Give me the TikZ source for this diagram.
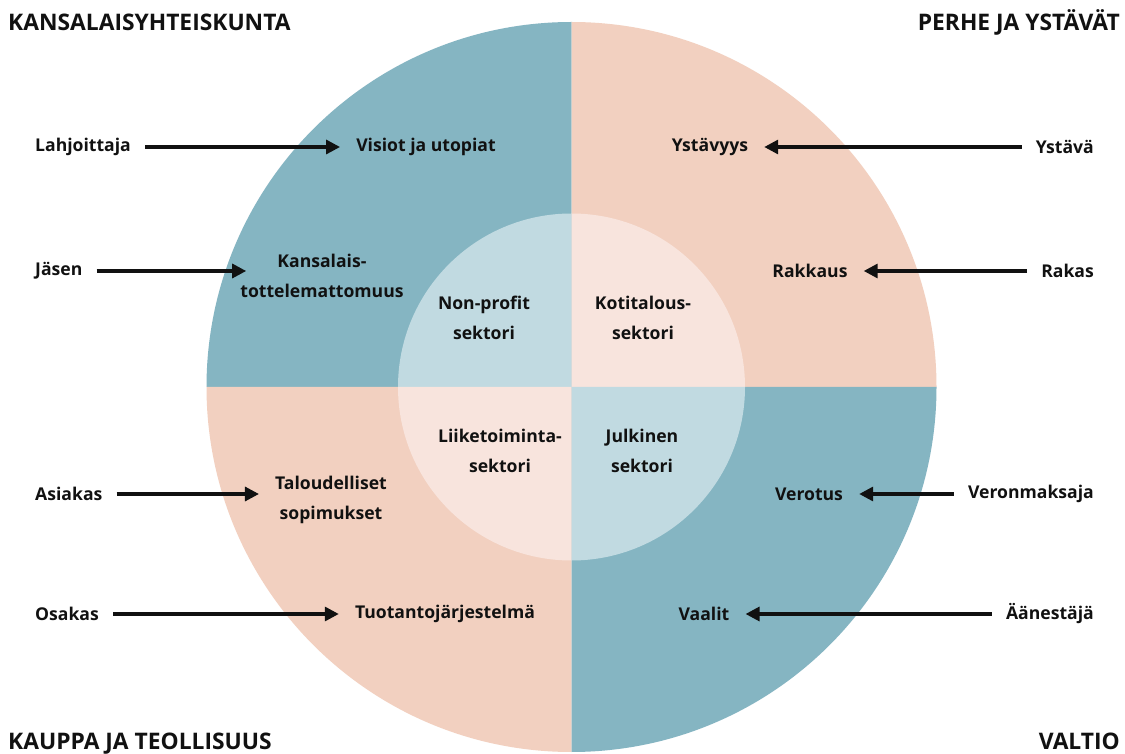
\documentclass[tikz,border=0pt]{standalone}
\usepackage{fontspec}
\setmainfont{Open Sans}
\usetikzlibrary{arrows.meta}
\definecolor{ringblue}{HTML}{85B5C2}
\definecolor{ringpeach}{HTML}{F2D0C0}
\definecolor{coreblue}{HTML}{C1DAE1}
\definecolor{corepeach}{HTML}{F8E4DD}
\definecolor{ink}{HTML}{111111}
\begin{document}
\begin{tikzpicture}[x=1pt,y=1pt,
  lbl/.style={inner sep=0pt,text=ink,font=\bfseries\fontsize{17.6}{30}\selectfont,align=center},
  ttl/.style={inner sep=0pt,text=ink,font=\bfseries\fontsize{22.8}{26}\selectfont},
  arr/.style={draw=ink,line width=3.2pt,-{Triangle[length=14pt,width=14pt]},shorten <=14pt,shorten >=16pt}]
\useasboundingbox (0,0) rectangle (1125,753);
\fill[white] (0,0) rectangle (1125,753);
\coordinate (O) at (571.5,366);
% outer ring
\fill[ringblue]  (O) -- ++(90:365) arc[start angle=90,end angle=180,radius=365] -- cycle;
\fill[ringpeach] (O) -- ++(0:365) arc[start angle=0,end angle=90,radius=365] -- cycle;
\fill[ringpeach] (O) -- ++(180:365) arc[start angle=180,end angle=270,radius=365] -- cycle;
\fill[ringblue]  (O) -- ++(270:365) arc[start angle=270,end angle=360,radius=365] -- cycle;
% core
\fill[coreblue]  (O) -- ++(90:173.5) arc[start angle=90,end angle=180,radius=173.5] -- cycle;
\fill[corepeach] (O) -- ++(0:173.5) arc[start angle=0,end angle=90,radius=173.5] -- cycle;
\fill[corepeach] (O) -- ++(180:173.5) arc[start angle=180,end angle=270,radius=173.5] -- cycle;
\fill[coreblue]  (O) -- ++(270:173.5) arc[start angle=270,end angle=360,radius=173.5] -- cycle;
% titles
\node[ttl,anchor=west] (t1) at (8,731) {KANSALAISYHTEISKUNTA};
\node[ttl,anchor=east] (t2) at (1120,731) {PERHE JA YSTÄVÄT};
\node[ttl,anchor=base west] (t3) at (8,4) {KAUPPA JA TEOLLISUUS};
\node[ttl,anchor=base east] (t4) at (1120,4) {VALTIO};
% core labels
\node[lbl] (np) at (484,435) {Non-profit\\sektori};
\node[lbl] (kt) at (643,435) {Kotitalous-\\sektori};
\node[lbl] (lt) at (500,302) {Liiketoiminta-\\sektori};
\node[lbl] (jk) at (642,302) {Julkinen\\sektori};
% ring labels
\node[lbl] (visio) at (426,606) {Visiot ja utopiat};
\node[lbl] (kans) at (322,477) {Kansalais-\\tottelemattomuus};
\node[lbl] (ystv) at (710,606) {Ystävyys};
\node[lbl] (rakk) at (810,482) {Rakkaus};
\node[lbl] (talo) at (331,253) {Taloudelliset\\sopimukset};
\node[lbl] (tuot) at (445,139) {Tuotantojärjestelmä};
\node[lbl] (vero) at (809,259) {Verotus};
\node[lbl] (vaal) at (704,139) {Vaalit};
% outside labels
\node[lbl,anchor=west] (lahj) at (35,606) {Lahjoittaja};
\node[lbl,anchor=west] (jas) at (35,482) {Jäsen};
\node[lbl,anchor=west] (asi) at (35,259) {Asiakas};
\node[lbl,anchor=west] (osa) at (35,139) {Osakas};
\node[lbl,anchor=east] (yst) at (1094,606) {Ystävä};
\node[lbl,anchor=east] (rak) at (1094,482) {Rakas};
\node[lbl,anchor=east] (vmk) at (1094,259) {Veronmaksaja};
\node[lbl,anchor=east] (aan) at (1094,139) {Äänestäjä};
% arrows
\draw[arr] (lahj.east) -- (visio.west);
\draw[arr,shorten >=-6pt] (jas.east) -- (jas.east -| kans.west);
\draw[arr] (asi.east) -- (asi.east -| talo.west);
\draw[arr] (osa.east) -- (tuot.west);
\draw[arr] (yst.west) -- (ystv.east);
\draw[arr] (rak.west) -- (rakk.east);
\draw[arr] (vmk.west) -- (vero.east);
\draw[arr] (aan.west) -- (vaal.east);
\end{tikzpicture}
\end{document}
